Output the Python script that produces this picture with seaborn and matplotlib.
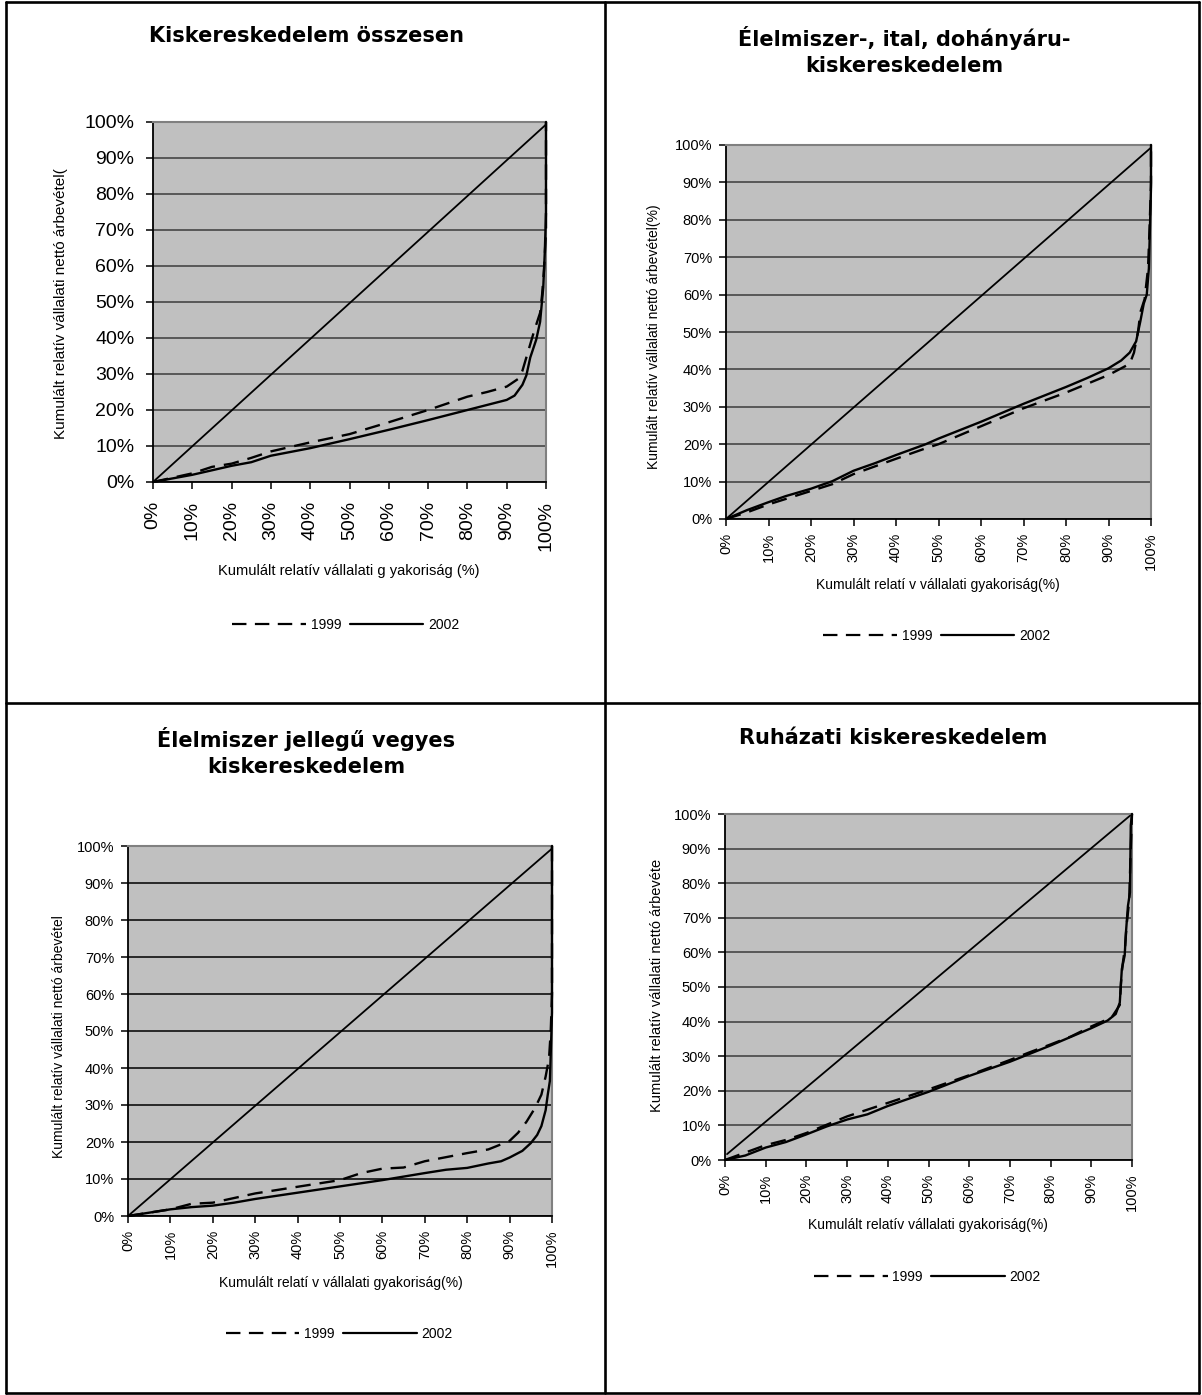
import matplotlib
matplotlib.use("Agg")
import matplotlib.pyplot as plt
from matplotlib.lines import Line2D
import pandas as pd
import seaborn as sns

sns.set_style("white")
plt.rcParams["font.family"] = ["Liberation Sans", "DejaVu Sans"]
plt.rcParams.update({"text.color": "black", "axes.labelcolor": "black",
                     "xtick.color": "black", "ytick.color": "black"})

# ---------------------------------------------------------------- data
pct_ticks = [0, 10, 20, 30, 40, 50, 60, 70, 80, 90, 100]
pct_labels = ["0%", "10%", "20%", "30%", "40%", "50%", "60%", "70%", "80%", "90%", "100%"]
years = ["1999", "2002"]

# Kiskereskedelem összesen
total_x_1999 = [0, 10, 15, 20, 25, 30, 40, 50, 60, 70, 80, 85, 90, 93, 94, 95, 96, 97, 98.5, 99, 99.5, 100, 100]
total_y_1999 = [0, 2.4, 4.2, 5.1, 6.7, 8.5, 11, 13.3, 16.6, 20, 23.7, 25, 26.5, 28.7, 30.9, 34.6, 38.3, 42, 47, 52, 59, 70, 100]
total_x_2002 = [0, 10, 20, 25, 30, 40, 50, 60, 70, 80, 90, 92, 94, 95, 96, 97.5, 98.5, 99.3, 99.7, 100, 100]
total_y_2002 = [0, 2.0, 4.5, 5.5, 7.3, 9.4, 11.9, 14.5, 17.2, 20, 22.8, 24, 27, 29.6, 34.6, 39.5, 44.5, 54, 64, 75, 100]

# Élelmiszer-, ital, dohányáru-kiskereskedelem
food_x_1999 = [0, 5, 10, 20, 25, 30, 40, 47, 50, 60, 70, 80, 90, 95, 96, 97, 97.5, 98.5, 99.3, 99.7, 100, 100]
food_y_1999 = [0, 1.8, 3.9, 7.5, 9.3, 12.0, 16.1, 18.9, 20, 24.8, 29.6, 33.8, 38.5, 41.5, 44.5, 50.5, 55.3, 58.8, 67, 79, 90, 100]
food_x_2002 = [0, 5, 10, 14, 20, 25, 30, 35, 40, 47, 50, 60, 70, 80, 85, 90, 93, 95, 96.5, 97.5, 98.3, 99, 99.5, 100, 100]
food_y_2002 = [0, 2.4, 4.5, 6.1, 8.1, 10.1, 12.9, 14.9, 17.1, 20.0, 21.5, 26, 30.8, 35.3, 37.7, 40.3, 42.4, 44.5, 47.5, 52.9, 57.6, 60, 67, 88.7, 100]

# Élelmiszer jellegű vegyes kiskereskedelem
mixed_x_1999 = [0, 10, 15, 20, 30, 40, 50, 55, 60, 65, 70, 80, 85, 90, 92, 94, 96, 97.5, 98.5, 99.3, 99.7, 100, 100]
mixed_y_1999 = [0, 1.8, 3.3, 3.6, 6.1, 7.9, 9.7, 11.6, 12.8, 13.1, 14.8, 17.0, 18.0, 20.3, 22.5, 25.5, 29.2, 32.8, 37.7, 42.6, 49.9, 60, 100]
mixed_x_2002 = [0, 5, 10, 15, 20, 25, 30, 40, 50, 60, 70, 75, 80, 85, 88, 90, 93, 95, 96.5, 97.5, 98.5, 99, 99.5, 99.8, 100, 100]
mixed_y_2002 = [0, 0.9, 1.8, 2.4, 2.8, 3.6, 4.6, 6.3, 8.0, 9.7, 11.6, 12.5, 13.0, 14.2, 14.8, 15.8, 17.6, 19.7, 21.9, 24.3, 28.6, 32.8, 36.5, 47.4, 55, 100]

# Ruházati kiskereskedelem
cloth_x_1999 = [0, 10, 15, 20, 30, 40, 50, 60, 70, 75, 80, 85, 90, 95, 97, 97.3, 97.7, 98.3, 98.7, 99.3, 99.7, 100]
cloth_y_1999 = [0, 4.3, 5.8, 7.8, 12.6, 16.5, 20.4, 24.5, 28.9, 31.2, 33.4, 35.7, 38.6, 41.2, 44.8, 51.3, 56.5, 61.7, 68.2, 74.7, 90.3, 100]
cloth_x_2002 = [0, 5, 10, 15, 20, 25, 30, 35, 40, 50, 60, 70, 80, 90, 94, 96, 97, 97.3, 97.5, 98.2, 98.5, 99, 99.5, 99.7, 100]
cloth_y_2002 = [0, 1.3, 3.6, 5.2, 7.4, 9.7, 11.7, 13.2, 15.6, 19.7, 24.3, 28.4, 33.1, 38.1, 40.3, 42.2, 45.5, 51.3, 55.2, 59.1, 65.6, 73.4, 77.3, 96.8, 100]

# line of equality
diag_x = [0, 100]
diag_y = [0, 99.3]
cloth_diag_x = [0.5, 100]
cloth_diag_y = [1.7, 100]

# ---------------------------------------------------------------- panels
panels = [
    dict(title="Kiskereskedelem összesen",
         ylabel="Kumulált relatív vállalati nettó árbevétel(",
         xlabel="Kumulált relatív vállalati g yakoriság (%)",
         s1999=(total_x_1999, total_y_1999), s2002=(total_x_2002, total_y_2002),
         diag=(diag_x, diag_y),
         rect=(153, 122, 546, 482), tick_size=14, tick_pad=8.5,
         ylabel_size=11, xlabel_size=10.5, grid_color="#3c3c3c",
         title_xy=(0.391, 1.215), ylabel_xy=(-0.234, 0.496), xlabel_xy=(0.499, -0.247),
         legend_xy=(0.491, -0.397)),
    dict(title="Élelmiszer-, ital, dohányáru-\nkiskereskedelem",
         ylabel="Kumulált relatív vállalati nettó árbevétel(%)",
         xlabel="Kumulált relatí v vállalati gyakoriság(%)",
         s1999=(food_x_1999, food_y_1999), s2002=(food_x_2002, food_y_2002),
         diag=(diag_x, diag_y),
         rect=(726, 145, 1151, 519), tick_size=10.5, tick_pad=5,
         ylabel_size=10, xlabel_size=10, grid_color="#3c3c3c",
         title_xy=(0.419, 1.229), ylabel_xy=(-0.170, 0.487), xlabel_xy=(0.499, -0.176),
         legend_xy=(0.496, -0.313)),
    dict(title="Élelmiszer jellegű vegyes\nkiskereskedelem",
         ylabel="Kumulált relatív vállalati nettó árbevétel",
         xlabel="Kumulált relatí v vállalati gyakoriság(%)",
         s1999=(mixed_x_1999, mixed_y_1999), s2002=(mixed_x_2002, mixed_y_2002),
         diag=(diag_x, diag_y),
         rect=(128, 846, 552, 1216), tick_size=10.5, tick_pad=5,
         ylabel_size=10, xlabel_size=10, grid_color="#000000",
         title_xy=(0.420, 1.232), ylabel_xy=(-0.163, 0.484), xlabel_xy=(0.501, -0.180),
         legend_xy=(0.498, -0.319)),
    dict(title="Ruházati kiskereskedelem",
         ylabel="Kumulált relatív vállalati nettó árbevéte",
         xlabel="Kumulált relatív vállalati gyakoriság(%)",
         s1999=(cloth_x_1999, cloth_y_1999), s2002=(cloth_x_2002, cloth_y_2002),
         diag=(cloth_diag_x, cloth_diag_y),
         rect=(725, 814, 1132, 1160), tick_size=10.5, tick_pad=5,
         ylabel_size=10.5, xlabel_size=10, grid_color="#3c3c3c",
         title_xy=(0.413, 1.197), ylabel_xy=(-0.166, 0.504), xlabel_xy=(0.499, -0.188),
         legend_xy=(0.4975, -0.338)),
]

W, H = 1202, 1395
fig = plt.figure(figsize=(W / 100, H / 100), dpi=100)
fig.patch.set_facecolor("white")

dash_style = (0, (6.5, 3.8))

for p in panels:
    x0, y0, x1, y1 = p["rect"]
    ax = fig.add_axes([x0 / W, 1 - y1 / H, (x1 - x0) / W, (y1 - y0) / H])
    ax.set_facecolor("#c0c0c0")

    # horizontal grid
    ax.set_axisbelow(True)
    ax.yaxis.grid(True, color=p["grid_color"], lw=1.1)
    ax.xaxis.grid(False)

    dx, dy = p["diag"]
    sns.lineplot(x=dx, y=dy, ax=ax, color="black", lw=1.3, estimator=None, sort=False)

    frames = []
    for yr, key in zip(years, ["s1999", "s2002"]):
        xs, ys = p[key]
        frames.append(pd.DataFrame({"x": xs, "y": ys, "year": yr}))
    df = pd.concat(frames, ignore_index=True)
    sns.lineplot(data=df, x="x", y="y", style="year", style_order=years,
                 dashes={"1999": (6.5, 3.8), "2002": ""},
                 color="black", lw=1.7, estimator=None, sort=False, units="year",
                 ax=ax, legend=False, clip_on=False, zorder=5)

    ax.set_xlim(0, 100)
    ax.set_ylim(0, 100)
    ax.margins(0)
    ax.set_xticks(pct_ticks)
    ax.set_xticklabels(pct_labels, rotation=90)
    ax.set_yticks(pct_ticks)
    ax.set_yticklabels(pct_labels)
    ax.tick_params(axis="both", direction="out", length=5, width=1.1, color="black",
                   labelsize=p["tick_size"], pad=p["tick_pad"], bottom=True, left=True)

    for side in ["top", "right"]:
        ax.spines[side].set_color("#808080")
        ax.spines[side].set_linewidth(1.5)
    for side in ["left", "bottom"]:
        ax.spines[side].set_color("black")
        ax.spines[side].set_linewidth(1.3)

    ax.set_title(p["title"], x=p["title_xy"][0], y=p["title_xy"][1], ha="center", va="center",
                 fontsize=15, fontweight="bold", family="DejaVu Sans", linespacing=1.35,
                 color="black")
    ax.set_xlabel(p["xlabel"], fontsize=p["xlabel_size"], va="center")
    ax.set_ylabel(p["ylabel"], fontsize=p["ylabel_size"], va="center")
    ax.xaxis.set_label_coords(*p["xlabel_xy"])
    ax.yaxis.set_label_coords(*p["ylabel_xy"])

    handles = [Line2D([], [], color="black", lw=1.6, linestyle=dash_style),
               Line2D([], [], color="black", lw=1.6)]
    ax.legend(handles, years, loc="center", bbox_to_anchor=p["legend_xy"], ncol=2,
              frameon=False, fontsize=10, handlelength=5.3, handletextpad=0.35,
              columnspacing=0.6, borderpad=0)

# outer frame and dividers between the four panels
frame_kw = dict(color="black", lw=1.9, transform=fig.transFigure)
L, R, T, B = 5.5 / W, 1199 / W, 1 - 2 / H, 1 - 1393 / H
for xs, ys in [([L, R], [T, T]), ([L, R], [B, B]), ([L, L], [B, T]), ([R, R], [B, T]),
               ([604.5 / W, 604.5 / W], [B, T]), ([L, R], [1 - 703 / H, 1 - 703 / H])]:
    fig.add_artist(Line2D(xs, ys, **frame_kw))

fig.savefig("out.png", dpi=100)
